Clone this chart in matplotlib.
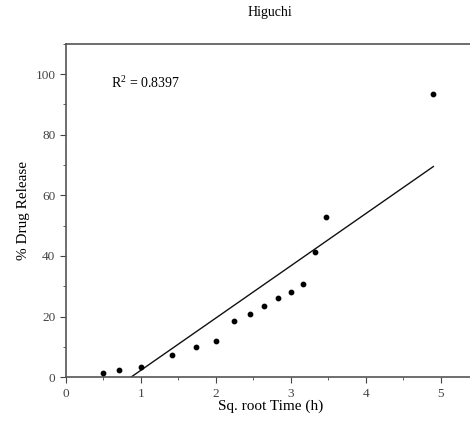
import numpy as np
import matplotlib
matplotlib.use("Agg")
import matplotlib.pyplot as plt
from matplotlib.ticker import MultipleLocator

plt.rcParams['font.family'] = ['Liberation Serif', 'DejaVu Serif']

sqrt_time = [0.5, 0.707, 1.0, 1.414, 1.732, 2.0, 2.236, 2.449, 2.646,
             2.828, 3.0, 3.162, 3.317, 3.464, 4.899]
release = [1.2, 2.3, 3.5, 7.2, 10.0, 12.0, 18.5, 20.7, 23.5,
           26.0, 28.0, 30.8, 41.2, 53.0, 93.5]

# fitted line as shown on the chart
slope = 17.25
intercept = -15.0

x0 = -intercept / slope
xfit = np.array([x0, max(sqrt_time)])
yfit = slope * xfit + intercept

fig = plt.figure(figsize=(4.7, 4.3), dpi=100)
ax = fig.add_axes([0.140, 0.123, 0.87, 0.775])
ax.scatter(sqrt_time, release, s=10, color='black', zorder=3)
ax.plot(xfit, yfit, color='#111111', linewidth=1)

ax.set_xlim(0, 5.45)
ax.set_ylim(0, 110)
ax.xaxis.set_major_locator(MultipleLocator(1))
ax.xaxis.set_minor_locator(MultipleLocator(0.5))
ax.yaxis.set_major_locator(MultipleLocator(20))
ax.yaxis.set_minor_locator(MultipleLocator(10))
ax.tick_params(which='both', direction='out', labelsize=9.5, colors='#444444')
ax.tick_params(which='major', length=4)
ax.tick_params(which='minor', length=2.5)
for s in ax.spines.values():
    s.set_linewidth(1.2)
    s.set_color('#555555')

ax.set_title('Higuchi', fontsize=10, pad=20)
ax.set_xlabel('Sq. root Time (h)', fontsize=11, labelpad=0)
ax.set_ylabel('% Drug Release', fontsize=11)
ax.text(0.6, 95.5, '$\\mathregular{R^2}$ = 0.8397', fontsize=10)

fig.savefig('out.png')
